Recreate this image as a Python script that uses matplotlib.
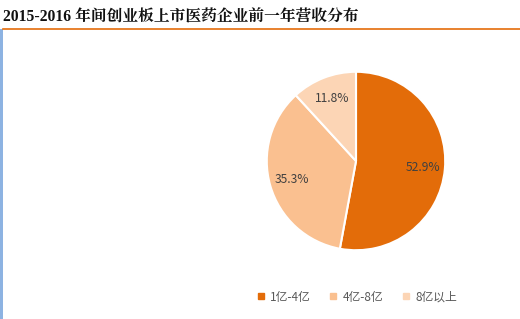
import matplotlib.pyplot as plt
from matplotlib.lines import Line2D

plt.rcParams['font.family'] = ['Noto Sans CJK SC', 'DejaVu Sans']

title = "2015-2016 年间创业板上市医药企业前一年营收分布"
labels = ["1亿-4亿", "4亿-8亿", "8亿以上"]
shares = [52.9, 35.3, 11.8]
colors = ["#E36C09", "#FAC090", "#FCD5B5"]

W, H = 520, 319
fig = plt.figure(figsize=(W / 100, H / 100), dpi=100)

# title + decoration
fig.text(3 / W, 1 - 17 / H, title, fontsize=11.3, fontweight='bold', color='#111111',
         va='center', ha='left', family=['Liberation Serif', 'Noto Serif CJK SC', 'Noto Sans CJK SC'])
fig.add_artist(Line2D([3 / W, 1], [1 - 29 / H, 1 - 29 / H], color='#E46C0A', lw=1.2))
fig.add_artist(plt.Rectangle((0, 0), 3 / W, 1 - 29 / H, color='#8DB3E2', lw=0))

# pie
cx, cy, r = 356, 161, 91
ax = fig.add_axes([(cx - r) / W, (H - cy - r) / H, 2 * r / W, 2 * r / H])
wedges, _, autotexts = ax.pie(shares, colors=colors, startangle=90, counterclock=False,
                              autopct='%.1f%%', pctdistance=0.75,
                              wedgeprops=dict(edgecolor='white', linewidth=1.5),
                              textprops=dict(fontsize=8.7, color='#404040'))
ax.set_aspect('equal')
ax.set_xlim(-1.02, 1.02)
ax.set_ylim(-1.02, 1.02)

handles = [Line2D([0], [0], marker='s', ls='', markersize=4, color=c) for c in colors]
leg = fig.legend(handles, labels, loc='center', bbox_to_anchor=(356 / W, 1 - 297 / H),
                 ncol=3, frameon=False, fontsize=8.5, handletextpad=0.3, columnspacing=1.4,
                 handlelength=1.0)
for t in leg.get_texts():
    t.set_color('#595959')

fig.savefig("out.png", dpi=100)
